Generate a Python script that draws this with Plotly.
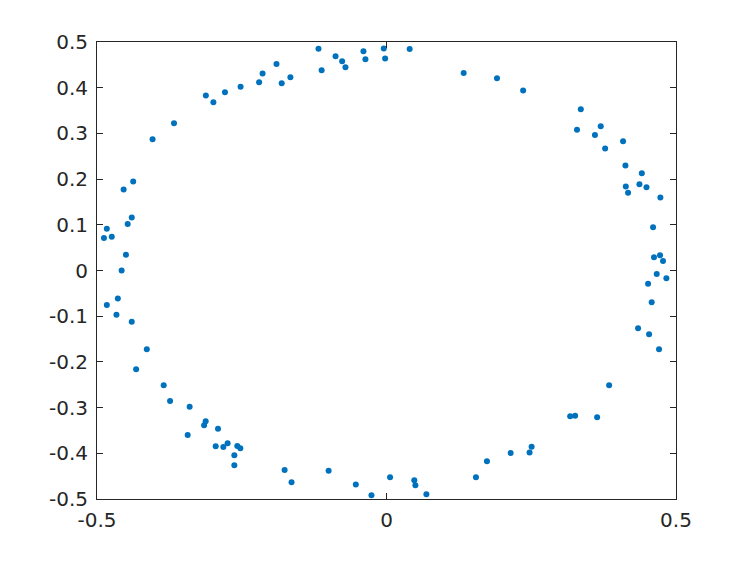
import plotly.graph_objects as go

x_vals = [
    -0.1175, -0.112, -0.088, -0.0766, -0.0709, -0.0398, -0.0364, -0.0047, -0.0024,
    -0.190, -0.214, -0.220, -0.181, -0.166, -0.252, -0.279, -0.312, -0.299,
    -0.367, -0.404, -0.4375, -0.454, -0.440, -0.447, -0.483, -0.488, -0.4745,
    -0.450, -0.4575,
    0.040, 0.1333, 0.1908, 0.236, 0.3356, 0.329, 0.370, 0.360, 0.3776, 0.4086,
    0.4127, 0.441, 0.4368, 0.449, 0.4133, 0.4172, 0.473, 0.4604, 0.462, 0.4724,
    0.4776, 0.4667,
    0.4834, 0.4518, 0.458, 0.4345, 0.4535, 0.4707, 0.3845, 0.3172, 0.3258, 0.3638,
    0.2506, 0.2471, 0.2144, 0.1735, 0.1545, 0.0062, 0.048, 0.0499, 0.0689,
    -0.483, -0.464, -0.4664, -0.440, -0.414, -0.4324, -0.3848, -0.3738, -0.340,
    -0.3434, -0.3123, -0.315, -0.291, -0.295, -0.2818, -0.2744, -0.2577, -0.2525,
    -0.2628, -0.2628, -0.176, -0.164, -0.100, -0.053, -0.026,
]
y_vals = [
    0.485, 0.438, 0.469, 0.458, 0.445, 0.480, 0.462, 0.486, 0.464,
    0.452, 0.431, 0.412, 0.410, 0.423, 0.402, 0.390, 0.383, 0.368,
    0.322, 0.287, 0.195, 0.177, 0.116, 0.102, 0.0915, 0.071, 0.074,
    0.0346, 0.000,
    0.4847, 0.432, 0.4205, 0.394, 0.3527, 0.308, 0.3155, 0.2965, 0.267, 0.2827,
    0.230, 0.2127, 0.1886, 0.182, 0.184, 0.170, 0.160, 0.0945, 0.029, 0.0333,
    0.0208, -0.0077,
    -0.017, -0.029, -0.0696, -0.1266, -0.1397, -0.1725, -0.2513, -0.319, -0.3177, -0.3213,
    -0.3855, -0.398, -0.3993, -0.4175, -0.4526, -0.4526, -0.459, -0.470, -0.4897,
    -0.0755, -0.061, -0.0967, -0.112, -0.1725, -0.216, -0.2513, -0.2855, -0.298,
    -0.360, -0.330, -0.3388, -0.3462, -0.3847, -0.3862, -0.378, -0.384, -0.389,
    -0.4044, -0.4263, -0.4365, -0.4635, -0.438, -0.468, -0.492,
]

x_ticks = [-0.5, 0, 0.5]
x_tick_labels = ["-0.5", "0", "0.5"]
y_ticks = [-0.5, -0.4, -0.3, -0.2, -0.1, 0, 0.1, 0.2, 0.3, 0.4, 0.5]
y_tick_labels = ["-0.5", "-0.4", "-0.3", "-0.2", "-0.1", "0", "0.1", "0.2", "0.3", "0.4", "0.5"]

fig = go.Figure(go.Scatter(
    x=x_vals, y=y_vals, mode="markers",
    marker=dict(color="#0072BD", size=6, line=dict(width=0)),
    showlegend=False,
))

axis_common = dict(
    showgrid=False, zeroline=False, showline=True, linecolor="#262626", linewidth=1,
    mirror="ticks", ticks="inside", ticklen=6, tickcolor="#262626", tickwidth=1,
    tickfont=dict(family="DejaVu Sans", size=20, color="#262626"),
)
fig.update_xaxes(range=[-0.5, 0.5], tickvals=x_ticks, ticktext=x_tick_labels,
                 ticklabelstandoff=3, **axis_common)
fig.update_yaxes(range=[-0.5, 0.5], tickvals=y_ticks, ticktext=y_tick_labels,
                 ticklabelstandoff=4, **axis_common)

fig.update_layout(
    width=740, height=554,
    margin=dict(l=89, r=72, t=34, b=63),
    paper_bgcolor="white", plot_bgcolor="white",
)

fig.write_html("out.html")
